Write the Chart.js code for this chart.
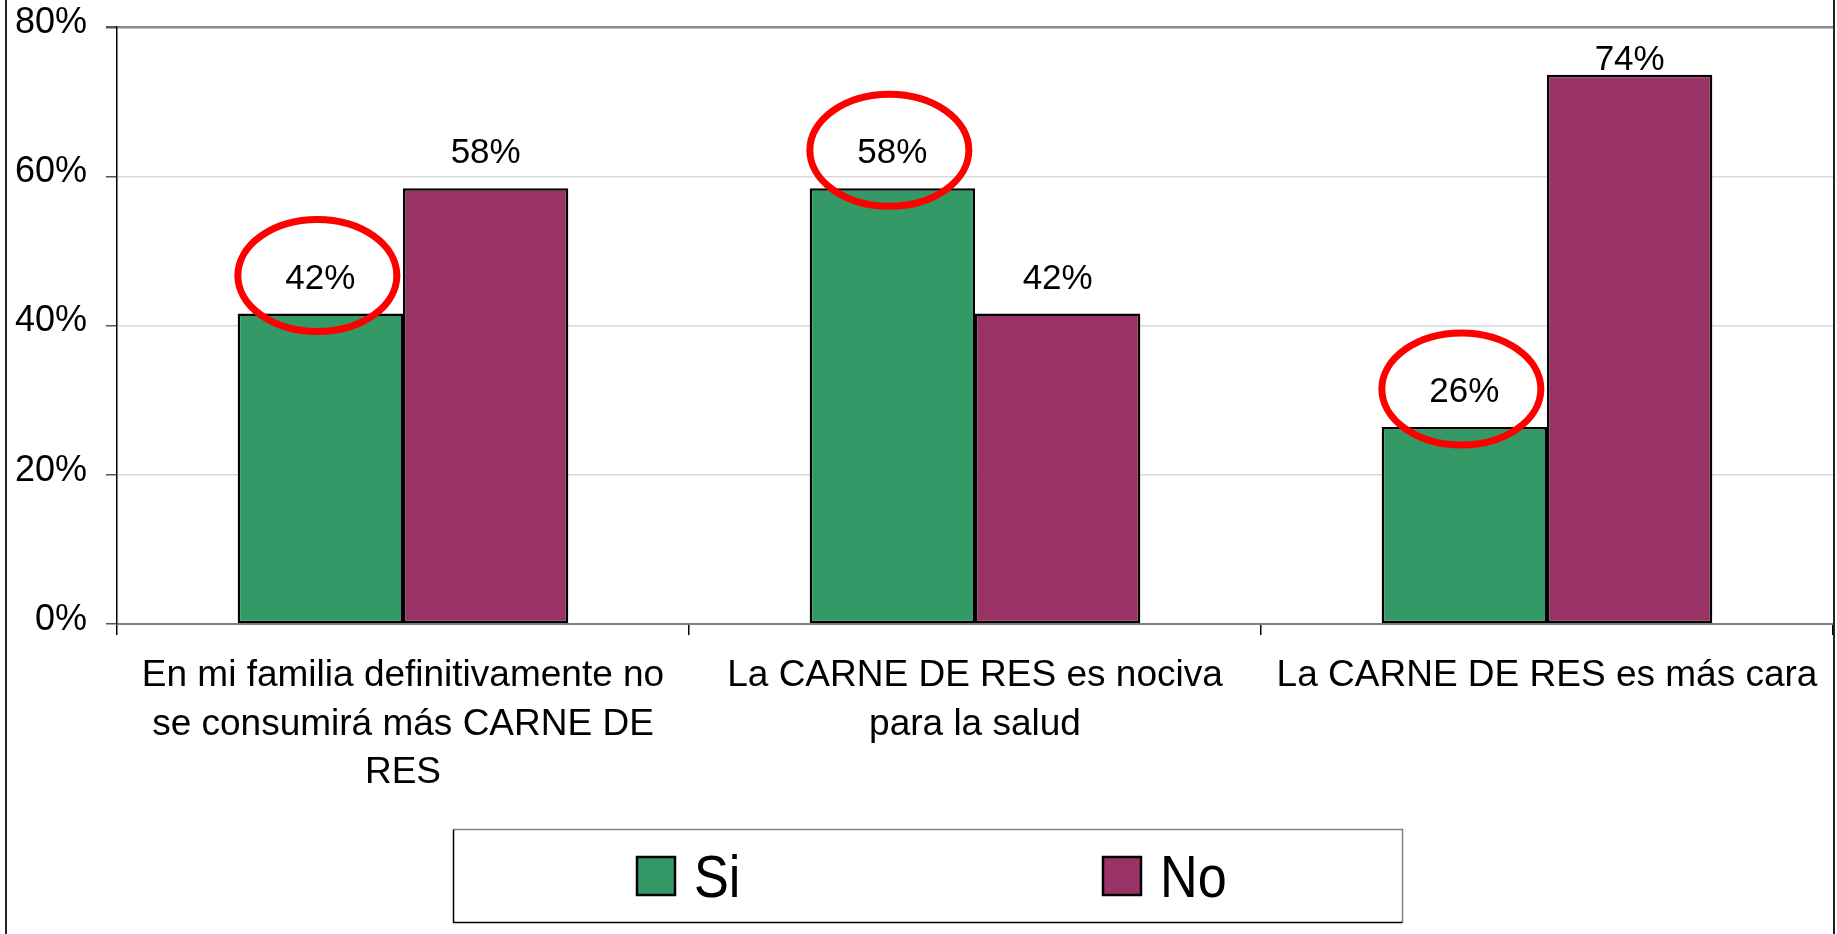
<!DOCTYPE html>
<html><head><meta charset="utf-8">
<script src="https://cdn.jsdelivr.net/npm/chart.js@4/dist/chart.umd.min.js"></script>
<style>html,body{margin:0;padding:0;background:#fff;overflow:hidden}#wrap{position:relative;width:1837px;height:934px}</style>
</head><body><div id="wrap"><canvas id="c" width="1837" height="934"></canvas></div>
<script>
// ---- data ----
const categories = [
  ["En mi familia definitivamente no", "se consumirá más CARNE DE", "RES"],
  ["La CARNE DE RES es nociva", "para la salud"],
  ["La CARNE DE RES es más cara"]
];
const seriesNames = ["Si", "No"];
const siValues = [41.6, 58.4, 26.4];
const noValues = [58.4, 41.6, 73.6];
const yTickValues = [0, 20, 40, 60, 80];
const highlightedSeries = "Si";

// ---- styles ----
const FONT = '"Liberation Sans", Arial, Helvetica, sans-serif';
const seriesColors = ["#339966", "#993366"];

const frame = {
  id: 'frame',
  beforeDraw(chart) {
    const ctx = chart.ctx;
    ctx.save();
    ctx.fillStyle = '#fff';
    ctx.fillRect(0, 0, chart.width, chart.height);
    ctx.restore();
  },
  afterDraw(chart) {
    const ctx = chart.ctx;
    ctx.save();
    ctx.strokeStyle = '#222';
    ctx.lineWidth = 2;
    ctx.beginPath();
    ctx.moveTo(6, 0); ctx.lineTo(6, chart.height);
    ctx.moveTo(1834, 0); ctx.lineTo(1834, chart.height);
    ctx.stroke();
    ctx.restore();
  }
};

const valueLabels = {
  id: 'valueLabels',
  afterDatasetsDraw(chart) {
    const { ctx, chartArea } = chart;
    ctx.save();
    ctx.font = '35px ' + FONT;
    ctx.fillStyle = '#000';
    ctx.textAlign = 'center';
    ctx.textBaseline = 'alphabetic';
    chart.data.datasets.forEach((ds, di) => {
      chart.getDatasetMeta(di).data.forEach((bar, i) => {
        const y = Math.max(bar.y - 25, chartArea.top + 43);
        ctx.fillText(Math.round(ds.data[i]) + '%', bar.x, y);
        if (ds.label === highlightedSeries) {
          ctx.save();
          ctx.strokeStyle = '#ff0000';
          ctx.lineWidth = 7;
          ctx.beginPath();
          ctx.ellipse(bar.x - 3, bar.y - 38, 79.5, 56, 0, 0, Math.PI * 2);
          ctx.stroke();
          ctx.restore();
        }
      });
    });
    ctx.restore();
  }
};

const boxLegend = {
  id: 'boxLegend',
  afterDraw(chart) {
    const ctx = chart.ctx;
    ctx.save();
    ctx.lineWidth = 1.5;
    ctx.strokeStyle = '#808080';
    ctx.beginPath();
    ctx.moveTo(453.5, 829.5); ctx.lineTo(1402.5, 829.5); ctx.lineTo(1402.5, 922.5);
    ctx.stroke();
    ctx.strokeStyle = '#000';
    ctx.beginPath();
    ctx.moveTo(453.5, 829.5); ctx.lineTo(453.5, 922.5); ctx.lineTo(1402.5, 922.5);
    ctx.stroke();
    chart.data.datasets.forEach((ds, i) => {
      const bx = 637 + i * 466;
      ctx.fillStyle = ds.backgroundColor;
      ctx.fillRect(bx, 857, 38, 38);
      ctx.lineWidth = 2.5;
      ctx.strokeStyle = '#000';
      ctx.strokeRect(bx, 857, 38, 38);
      ctx.save();
      ctx.translate(bx + 57, 897);
      ctx.scale(0.87, 1);
      ctx.font = '60px ' + FONT;
      ctx.fillStyle = '#000';
      ctx.textBaseline = 'alphabetic';
      ctx.textAlign = 'left';
      ctx.fillText(ds.label, 0, 0);
      ctx.restore();
    });
    ctx.restore();
  }
};

new Chart(document.getElementById('c'), {
  type: 'bar',
  data: {
    labels: categories,
    datasets: [
      { label: seriesNames[0], data: siValues, backgroundColor: seriesColors[0], borderColor: '#000', borderWidth: 2.5, borderSkipped: false },
      { label: seriesNames[1], data: noValues, backgroundColor: seriesColors[1], borderColor: '#000', borderWidth: 2.5, borderSkipped: false }
    ]
  },
  options: {
    responsive: false,
    animation: false,
    devicePixelRatio: 1,
    datasets: { bar: { categoryPercentage: 0.578, barPercentage: 1 } },
    layout: { padding: { top: 27, left: 0, right: 4, bottom: 134 } },
    plugins: { legend: { display: false }, tooltip: { enabled: false } },
    scales: {
      x: {
        afterFit(s) { s.height = 176; s.paddingLeft = 0; s.paddingRight = 0; },
        grid: { display: true, drawOnChartArea: false, drawTicks: true, tickLength: 11, color: '#000', lineWidth: 1.5, offset: true },
        border: { display: true, color: '#808080', width: 2 },
        ticks: { font: { family: FONT, size: 37, lineHeight: 1.31 }, color: '#000', padding: 17, maxRotation: 0, autoSkip: false }
      },
      y: {
        min: 0, max: 80,
        afterFit(s) { s.width = 117; s.paddingTop = 0; s.paddingBottom = 0; },
        afterBuildTicks(s) { s.ticks = yTickValues.map(v => ({ value: v })); },
        grid: {
          color: c => (c.tick && c.tick.value === 80) ? '#8a8a8a' : '#d9d9d9',
          lineWidth: c => (c.tick && c.tick.value === 80) ? 2.5 : 1.5,
          tickColor: '#555', tickLength: 11
        },
        border: { display: true, color: '#000', width: 1.5 },
        ticks: { font: { family: FONT, size: 36 }, color: '#000', padding: 19, labelOffset: -4, callback: v => v + '%' }
      }
    }
  },
  plugins: [frame, valueLabels, boxLegend]
});
</script>
</body></html>
